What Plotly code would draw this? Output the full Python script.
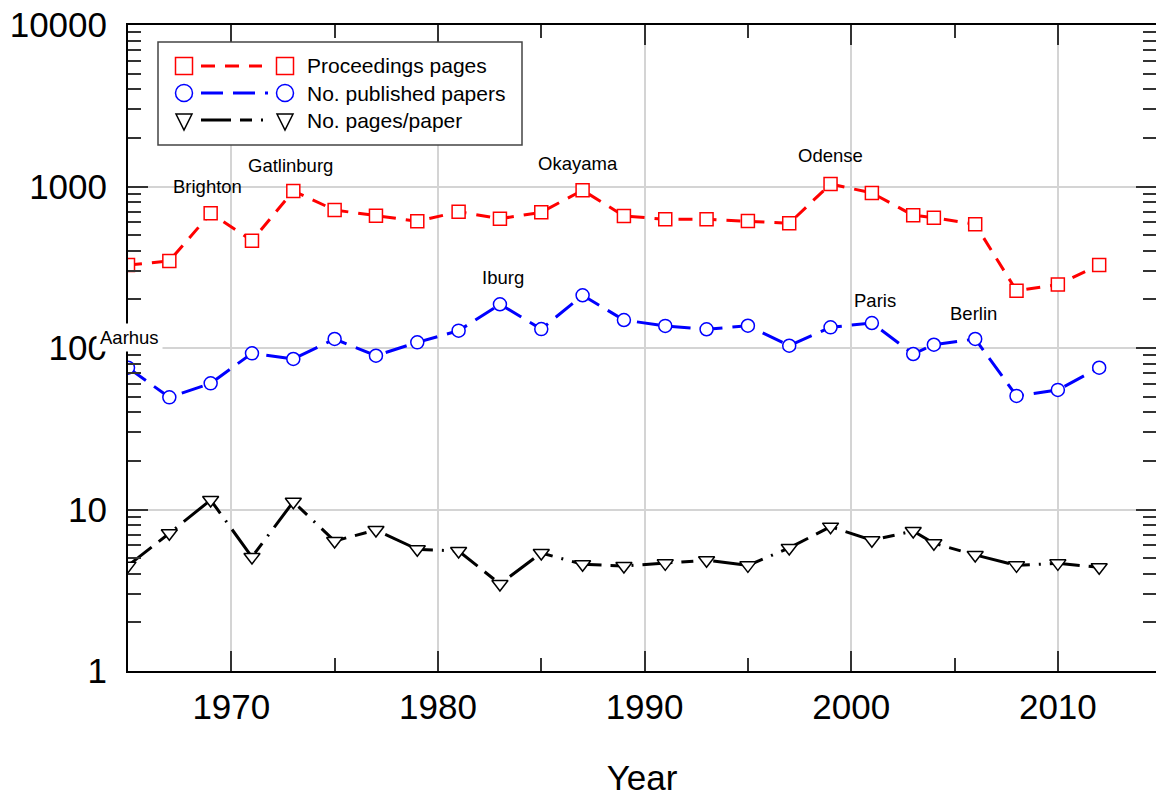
import plotly.graph_objects as go
import math

# ---------------- data ----------------
years = [1965, 1967, 1969, 1971, 1973, 1975, 1977, 1979, 1981, 1983, 1985, 1987,
         1989, 1991, 1993, 1995, 1997, 1999, 2001, 2003, 2004, 2006, 2008, 2010, 2012]
proceedings_pages = [326, 346, 682, 462, 938, 715, 660, 609, 698, 632, 692, 948,
                     657, 627, 627, 611, 592, 1036, 912, 663, 641, 583, 226, 247, 326]
published_papers = [75.5, 49.5, 60.4, 92.7, 85.5, 113.7, 89.6, 108.4, 128, 186.5, 131, 212,
                    149, 137, 130.6, 137.4, 103.3, 134.3, 142.8, 91.8, 104.8, 113.7, 50.5, 55, 75.5]
pages_per_paper = [4.49, 7.12, 11.45, 5.08, 11.17, 6.38, 7.47, 5.67, 5.53, 3.46, 5.38, 4.58,
                   4.47, 4.64, 4.85, 4.51, 5.78, 7.83, 6.45, 7.36, 6.18, 5.23, 4.51, 4.64, 4.39]

series_names = ["Proceedings pages", "No. published papers", "No. pages/paper"]

label_names = ["Aarhus", "Brighton", "Gatlinburg", "Iburg", "Okayama", "Odense", "Paris", "Berlin"]
label_years = [1965, 1969, 1973, 1983, 1987, 1999, 2001, 2006]
label_series = [1, 0, 0, 1, 0, 0, 1, 1]   # index into series list

x_tickvals = [1970, 1980, 1990, 2000, 2010]
y_tickvals = [1, 10, 100, 1000, 10000]
y_ticktext = ["1", "10", "100", "1000", "10000"]

# ---------------- styles ----------------
FONT = "Liberation Sans, Arial, Helvetica, sans-serif"
W, H = 1156, 798
L, R, T, B = 128, 0, 25, 127
PW, PH = W - L - R, H - T - B

colors = ["#ff0000", "#0000ff", "#000000"]
symbols = ["square", "circle", "triangle-down"]
msizes = [13, 13, 14]
dashes = ["14px,10px", "22px,10px", "30px,9px,12px,9px,2px,9px"]
all_series = [proceedings_pages, published_papers, pages_per_paper]

fig = go.Figure()
for vals, c, sym, ms, d, nm in zip(all_series, colors, symbols, msizes, dashes, series_names):
    fig.add_trace(go.Scatter(
        x=years, y=vals, name=nm, mode="lines+markers",
        line=dict(color=c, width=3, dash=d),
        marker=dict(symbol=sym, size=ms, color="white",
                    line=dict(color=c, width=1.5)),
        showlegend=False, cliponaxis=True,
    ))

# venue labels
label_dx = [1, -3, -3, 3, -5, 0, 3, -2]
label_dy = [30, 27, 25, 27, 27, 29, 23, 25]
for nm, yr, si, dx, dy in zip(label_names, label_years, label_series, label_dx, label_dy):
    v = all_series[si][years.index(yr)]
    fig.add_annotation(
        x=yr, y=math.log10(v), xref="x", yref="y", text=nm, showarrow=False,
        xshift=dx, yshift=dy, font=dict(family=FONT, size=18.5, color="black"),
        bgcolor="white" if nm == "Aarhus" else "rgba(0,0,0,0)", borderpad=3,
    )

# ---------------- custom legend ----------------
def px(x):
    return (x - L) / PW

def py(y):
    return (H - B - y) / PH

shapes = []
shapes.append(dict(type="rect", xref="paper", yref="paper",
                   x0=px(158), x1=px(522), y0=py(145), y1=py(42),
                   fillcolor="white", line=dict(color="#444444", width=1.5), layer="above"))
rows_y = [66, 93, 120]
line_ends = [262, 268, 267]
for i, (ry, c, d, le) in enumerate(zip(rows_y, colors, dashes, line_ends)):
    shapes.append(dict(type="line", xref="paper", yref="paper",
                       x0=px(201), x1=px(le), y0=py(ry), y1=py(ry),
                       line=dict(color=c, width=3, dash=d), layer="above"))
    for mx in (184, 285):
        if i == 0:
            shapes.append(dict(type="rect", xref="paper", yref="paper",
                               xsizemode="pixel", ysizemode="pixel",
                               xanchor=px(mx), yanchor=py(ry),
                               x0=-8.5, x1=8.5, y0=-8.5, y1=8.5,
                               fillcolor="white", line=dict(color=c, width=1.5), layer="above"))
        elif i == 1:
            shapes.append(dict(type="circle", xref="paper", yref="paper",
                               xsizemode="pixel", ysizemode="pixel",
                               xanchor=px(mx), yanchor=py(ry),
                               x0=-8.5, x1=8.5, y0=-8.5, y1=8.5,
                               fillcolor="white", line=dict(color=c, width=1.5), layer="above"))
        else:
            shapes.append(dict(type="path", xref="paper", yref="paper",
                               xsizemode="pixel", ysizemode="pixel",
                               xanchor=px(mx), yanchor=py(ry),
                               path="M-8,6 L8,6 L0,-10 Z",
                               fillcolor="white", line=dict(color=c, width=1.5), layer="above"))
    fig.add_annotation(x=px(305), y=py(ry), xref="paper", yref="paper",
                       text=series_names[i], showarrow=False, xanchor="left", yanchor="middle",
                       font=dict(family=FONT, size=21, color="black"))

fig.update_layout(shapes=shapes)

fig.update_layout(
    width=W, height=H,
    margin=dict(l=L, r=R, t=T, b=B, pad=0, autoexpand=False),
    paper_bgcolor="white", plot_bgcolor="white",
    font=dict(family=FONT, color="black"),
    showlegend=False,
)
fig.update_xaxes(
    range=[1965, 2014.75], tickvals=x_tickvals, ticks="inside", ticklen=20, tickwidth=1.5,
    tickcolor="#333333", showline=True, linewidth=2, linecolor="black", mirror="ticks",
    showgrid=True, gridcolor="#d4d4d4", gridwidth=1.5, zeroline=False, automargin=False,
    tickfont=dict(size=35, family=FONT), ticklabelstandoff=4,
    minor=dict(ticks="inside", ticklen=13, tickwidth=1.5, tickcolor="#333333", dtick=5, showgrid=False),
    title=dict(text="Year", font=dict(size=35, family=FONT), standoff=40),
)
fig.update_yaxes(
    type="log", range=[0, 4], tickvals=y_tickvals, ticktext=y_ticktext,
    ticks="inside", ticklen=20, tickwidth=1.5, tickcolor="#333333",
    showline=True, linewidth=2, linecolor="black", mirror="ticks",
    showgrid=True, gridcolor="#d4d4d4", gridwidth=1.5, zeroline=False, automargin=False,
    tickfont=dict(size=35, family=FONT), ticklabelstandoff=12,
    minor=dict(ticks="inside", ticklen=13, tickwidth=1.5, tickcolor="#333333", dtick="D1", showgrid=False),
)

fig.write_html("out.html", config={"displayModeBar": False},
               post_script="document.body.style.margin='0';document.body.style.overflow='hidden';")
